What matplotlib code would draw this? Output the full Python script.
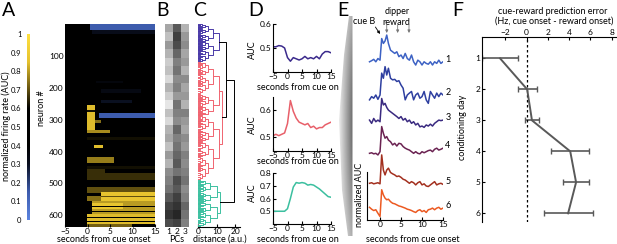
import numpy as np
import matplotlib
matplotlib.use('Agg')
import matplotlib.pyplot as plt
from matplotlib.colors import LinearSegmentedColormap
from matplotlib.path import Path
from matplotlib.patches import PathPatch

plt.rcParams['font.family'] = ['Lato', 'DejaVu Sans']
plt.rcParams['font.size'] = 6
plt.rcParams['xtick.labelsize'] = 6
plt.rcParams['ytick.labelsize'] = 6

W, H = 617, 244

# ---- A: heatmap (neurons x time), blocks of activity
n_neurons = 636
heat_t_edges = np.arange(-5, 15.01, 0.25)
# (first neuron, last neuron, t start, t end, AUC)
activity_blocks = [
    (0, 18, 0.5, 15, 0.15),
    (18, 30, 1, 15, 0.32),
    (60, 64, 2, 15, 0.4),
    (100, 104, 0, 15, 0.6),
    (150, 156, 4, 15, 0.4),
    (180, 185, 2, 8, 0.36),
    (205, 215, 3, 12, 0.34),
    (237, 249, 3, 10, 0.3),
    (279, 295, 2.5, 15, 0.15),
    (253, 332, 0, 1.8, 0.84),
    (270, 276, 0, 1.8, 0.62),
    (300, 310, 1.8, 3, 0.74),
    (332, 342, 0, 5, 0.78),
    (355, 362, 0, 15, 0.62),
    (379, 389, 1.5, 3.5, 0.84),
    (416, 437, 0, 6, 0.76),
    (445, 455, 0, 15, 0.62),
    (455, 468, 0, 4, 0.66),
    (468, 489, 0, 15, 0.66),
    (489, 500, 0, 15, 0.6),
    (510, 531, 0, 15, 0.7),
    (526, 553, 3, 15, 0.86),
    (538, 542, 3, 15, 0.7),
    (540, 553, 0, 3, 0.74),
    (553, 595, 1, 15, 0.8),
    (560, 580, 1, 8, 0.86),
    (570, 574, 0, 15, 0.55),
    (586, 590, 0, 15, 0.58),
    (595, 627, 0, 15, 0.84),
    (604, 608, 0, 15, 0.56),
    (617, 620, 0, 15, 0.6),
    (627, 636, 0, 10, 0.72),
]
cbar_ticks = [0, 0.1, 0.2, 0.3, 0.4, 0.5, 0.6, 0.7, 0.8, 0.9, 1]

# ---- B: PC loadings (grey levels, 24 row blocks)
pc1 = [0.65, 0.75, 0.6, 0.7, 0.8, 0.75, 0.85, 0.7, 0.8, 0.9, 0.75, 0.85,
       0.7, 0.65, 0.75, 0.6, 0.7, 0.55, 0.5, 0.45, 0.35, 0.25, 0.2, 0.3]
pc2 = [0.35, 0.25, 0.3, 0.4, 0.5, 0.45, 0.55, 0.5, 0.6, 0.45, 0.5, 0.55,
       0.4, 0.5, 0.45, 0.4, 0.35, 0.45, 0.3, 0.35, 0.25, 0.2, 0.15, 0.25]
pc3 = [0.7, 0.6, 0.55, 0.65, 0.6, 0.7, 0.55, 0.65, 0.6, 0.7, 0.5, 0.6,
       0.65, 0.55, 0.6, 0.5, 0.55, 0.5, 0.45, 0.55, 0.5, 0.4, 0.45, 0.5]

# ---- C: dendrogram clusters
cluster_sizes = [119, 370, 147]
cluster_colors = ['#4a3aa8', '#f06470', '#3cc0a0']
cluster_level_heights = [
    [11, 8, 5.5, 3.5, 2.2, 1.2],
    [13, 11, 8, 5.5, 3.5, 2, 1],
    [12, 10, 6.5, 4, 2.5, 1.2],
]
split_fracs = [0.45, 0.6, 0.4, 0.55, 0.35, 0.5, 0.6]
join_pr, join_all = 15, 19.5

# ---- D: cluster mean responses
t_d = list(range(-5, 16))
auc_purple = [0.505, 0.505, 0.51, 0.508, 0.50, 0.46, 0.445, 0.46, 0.455, 0.45, 0.455,
              0.465, 0.455, 0.46, 0.455, 0.465, 0.455, 0.475, 0.485, 0.485, 0.48]
auc_red = [0.505, 0.51, 0.505, 0.51, 0.515, 0.55, 0.635, 0.595, 0.57, 0.555, 0.55,
           0.545, 0.55, 0.535, 0.54, 0.53, 0.535, 0.535, 0.545, 0.55, 0.555]
auc_green = [0.5, 0.5, 0.5, 0.5, 0.5, 0.52, 0.6, 0.69, 0.725, 0.72, 0.725,
             0.72, 0.705, 0.71, 0.705, 0.69, 0.675, 0.655, 0.635, 0.615, 0.61]

# ---- E: population response per conditioning day
t_e = [-2.5, -2, -1.5, -1, -0.5, 0, 0.4, 0.8, 1.2, 1.6, 2, 2.5, 3, 3.5, 4, 4.5, 5, 5.5,
       6, 6.5, 7, 7.5, 8, 8.5, 9, 9.5, 10, 10.5, 11, 11.5, 12, 12.5, 13, 13.5, 14, 14.5, 15]
day1 = [0.0, 0.04, 0.09, 0.0, 0.12, 0.06, 0.86, 0.68, 0.77, 0.99, 0.68, 0.43, 0.37, 0.31,
        0.37, 0.19, 0.25, 0.12, 0.31, 0.12, 0.06, 0.25, 0.0, -0.12, 0.06, 0.0, -0.12, 0.0,
        -0.06, -0.09, 0.0, -0.12, 0.0, -0.06, 0.06, -0.06, 0.0]
day2 = [-0.06, 0.06, 0.0, 0.12, -0.04, 0.12, 0.93, 0.74, 1.17, 0.86, 1.11, 0.74, 0.68, 0.70,
        0.62, 0.65, 0.49, 0.37, -0.06, 0.12, 0.19, 0.25, -0.06, 0.12, 0.19, 0.0, 0.06, 0.25,
        -0.06, -0.19, 0.25, 0.12, 0.0, 0.19, 0.06, 0.19, 0.12]
day3 = [0.06, -0.06, 0.12, 0.0, 0.06, 0.0, 0.86, 0.62, 0.68, 0.53, 0.43, 0.37, 0.31, 0.25,
        0.19, 0.12, 0.19, 0.06, 0.12, 0.0, 0.06, -0.06, 0.0, -0.12, -0.06, -0.19, -0.16,
        -0.21, -0.12, -0.16, -0.09, -0.16, -0.06, 0.0, 0.06, 0.04, 0.06]
day4 = [0.0, 0.02, -0.02, 0.0, -0.06, 0.06, 0.99, 0.74, 0.56, 0.62, 0.49, 0.43, 0.31, 0.37,
        0.27, 0.37, 0.35, 0.25, 0.19, 0.15, 0.12, 0.06, 0.0, 0.06, 0.0, -0.02, 0.06, 0.02,
        0.06, 0.10, 0.12, 0.06, 0.15, 0.19, 0.12, 0.15, 0.19]
day5 = [0.0, 0.02, -0.02, 0.0, 0.02, -0.02, 1.05, 0.49, 0.31, 0.49, 0.56, 0.40, 0.35, 0.31,
        0.25, 0.27, 0.22, 0.15, 0.12, 0.06, 0.0, 0.06, 0.02, -0.06, 0.02, 0.06, -0.06, -0.02,
        -0.10, -0.12, -0.06, 0.0, 0.06, -0.06, -0.02, 0.0, -0.04]
day6 = [0.07, 0.0, -0.05, -0.02, -0.15, -0.27, 0.72, 0.53, 0.41, 0.35, 0.37, 0.28, 0.22, 0.20,
        0.16, 0.12, 0.10, 0.07, 0.04, 0.0, -0.02, -0.05, -0.09, -0.12, -0.05, -0.02, -0.09,
        -0.05, -0.12, -0.02, 0.0, 0.04, -0.02, 0.04, 0.07, 0.0, 0.04]
day_traces = [day1, day2, day3, day4, day5, day6]
day_offsets = [5.86, 4.51, 3.64, 2.47, 1.36, 0.40]
day_colors = ['#3d62c4', '#2e3fa0', '#3a2a80', '#6b2352', '#a3301f', '#ec5a22']
reward_times = [1.6, 4.2, 6.9]

# ---- F: prediction error per day
days = [1, 2, 3, 4, 5, 6]
rpe_mean = [-2.5, 0.05, 0.5, 4.1, 4.65, 3.9]
rpe_err = [1.7, 0.9, 0.7, 1.8, 1.25, 2.3]


def px_axes(x0, y0, x1, y1):
    return fig.add_axes([x0 / W, 1 - y1 / H, (x1 - x0) / W, (y1 - y0) / H])


def ftext(x, y, s, **kw):
    return fig.text(x / W, 1 - y / H, s, **kw)


fig = plt.figure(figsize=(W / 100, H / 100), dpi=100)

# panel letters
for lx, letter in zip([2, 156, 193, 248, 337, 452], 'ABCDEF'):
    ftext(lx, 10, letter, fontsize=14, va='center', ha='left')

# ---------------- A
cmap = LinearSegmentedColormap.from_list('auc', [
    (0.0, (0.36, 0.52, 0.88)), (0.15, (0.24, 0.36, 0.68)), (0.3, (0.04, 0.06, 0.12)),
    (0.4, (0, 0, 0)), (0.6, (0, 0, 0)), (0.72, (0.45, 0.37, 0.07)),
    (0.85, (0.9, 0.76, 0.18)), (1.0, (1.0, 0.88, 0.25))])

t_centers = (heat_t_edges[:-1] + heat_t_edges[1:]) / 2
heat = np.full((n_neurons, len(t_centers)), 0.5)
for lo, hi, t0, t1, v in activity_blocks:
    heat[lo:hi, (t_centers >= t0) & (t_centers < t1)] = v

ax_a = px_axes(65, 24, 155, 227)
ax_a.imshow(heat, aspect='auto', cmap=cmap, vmin=0, vmax=1, interpolation='nearest',
            extent=(-5, 15, n_neurons + 0.5, 0.5))
ax_a.set_yticks([100, 200, 300, 400, 500, 600])
ax_a.set_xticks([-5, 0, 5, 10, 15])
ax_a.tick_params(direction='in', length=2, pad=1)
for s in ax_a.spines.values():
    s.set_visible(False)
ftext(104, 239.5, 'seconds from cue onset', ha='center', va='center', fontsize=6.5)
ftext(42, 108, 'neuron #', ha='center', va='center', rotation=90, fontsize=6.5)

ax_cb = px_axes(27, 34, 29.5, 220)
ax_cb.imshow(np.linspace(0, 1, 256)[:, None], aspect='auto', cmap=cmap, origin='lower',
             extent=(0, 1, 0, 1))
ax_cb.set_xticks([])
ax_cb.set_yticks(cbar_ticks)
ax_cb.set_yticklabels([('%g' % v) for v in cbar_ticks])
ax_cb.tick_params(length=0, pad=4, labelsize=5.5)
for s in ax_cb.spines.values():
    s.set_visible(False)
ftext(6, 126, 'normalized firing rate (AUC)', ha='center', va='center', rotation=90,
      fontsize=6.5)

# ---------------- B
ax_b = px_axes(165, 24, 189, 227)
pcs = np.array([pc1, pc2, pc3]).T
ax_b.imshow(pcs, aspect='auto', cmap='gray', vmin=0, vmax=1, interpolation='nearest',
            extent=(0.5, 3.5, n_neurons + 0.5, 0.5))
ax_b.set_xticks([1, 2, 3])
ax_b.set_yticks([])
ax_b.tick_params(length=0, pad=1)
for s in ax_b.spines.values():
    s.set_visible(False)
ftext(177, 239.5, 'PCs', ha='center', va='center', fontsize=6.5)

# ---------------- C
ax_c = px_axes(198, 24, 240, 227)


def draw_tree(ax, lo, hi, heights, depth, color, flip):
    if depth >= len(heights) or hi - lo < 2:
        return (lo + hi) / 2, 0.0
    f = split_fracs[depth % len(split_fracs)]
    if flip:
        f = 1 - f
    mid = lo + (hi - lo) * f
    y1, h1 = draw_tree(ax, lo, mid, heights, depth + 1, color, flip)
    y2, h2 = draw_tree(ax, mid, hi, heights, depth + 1, color, not flip)
    h = heights[depth]
    ax.plot([h1, h, h, h2], [y1, y1, y2, y2], color=color, lw=0.7)
    return (y1 + y2) / 2, h


roots = []
start = 0
for size, col, hts in zip(cluster_sizes, cluster_colors, cluster_level_heights):
    roots.append(draw_tree(ax_c, start, start + size, hts, 0, col, False))
    start += size
(yp, hp), (yr, hr), (yg, hg) = roots
ax_c.plot([hp, join_pr, join_pr, hr], [yp, yp, yr, yr], color='k', lw=0.7)
ypr = (yp + yr) / 2
ax_c.plot([join_pr, join_all, join_all, hg], [ypr, ypr, yg, yg], color='k', lw=0.7)
ax_c.set_ylim(n_neurons, 0)
ax_c.set_xlim(0, 22.5)
ax_c.set_xticks([0, 10, 20])
ax_c.set_yticks([])
ax_c.tick_params(direction='in', length=2, pad=1)
for side in ['top', 'right', 'left']:
    ax_c.spines[side].set_visible(False)
ax_c.spines['bottom'].set_linewidth(0.8)
ftext(220, 239.5, 'distance (a.u.)', ha='center', va='center', fontsize=6.5)

# ---------------- D
d_boxes = [(24, 72), (96.5, 150.5), (173, 224)]
d_ylims = [(0.4, 0.6), (0.45, 0.65), (0.4, 0.8)]
d_yticks = [[0.5, 0.6], [0.5, 0.6], [0.5, 0.6, 0.7, 0.8]]
d_series = [auc_purple, auc_red, auc_green]
d_colors = ['#3b2a8c', '#e8606a', '#3bbf9f']
d_label_y = [[50, 87], [125, 162], [193, 239.5]]
for (y0, y1), yl, yt, ser, col, (ly, xy) in zip(d_boxes, d_ylims, d_yticks, d_series,
                                               d_colors, d_label_y):
    ax = px_axes(273, y0, 331, y1)
    ax.plot(t_d, ser, color=col, lw=1.1)
    ax.set_xlim(-5, 15)
    ax.set_ylim(*yl)
    ax.set_yticks(yt)
    ax.set_yticklabels([('%g' % v) for v in yt])
    ax.set_xticks([-5, 0, 5, 10, 15])
    ax.tick_params(direction='in', length=2, pad=1)
    for side in ['top', 'right']:
        ax.spines[side].set_visible(False)
    for side in ['left', 'bottom']:
        ax.spines[side].set_linewidth(0.8)
    ftext(252, ly, 'AUC', ha='center', va='center', rotation=90, fontsize=6.5)
    ftext(257, xy, 'seconds from cue on', ha='left', va='center', fontsize=6.5)

# ---------------- wedge (zoom shading)
ax_w = px_axes(330, 12, 358, 240)
ax_w.set_xlim(330, 358)
ax_w.set_ylim(240, 12)
ax_w.axis('off')
gx = np.linspace(330, 358, 60)
gy = np.linspace(12, 240, 120)
GX, GY = np.meshgrid(gx, gy)
shade = 1 - 0.55 * np.clip((GX - 337) / 15, 0, 1) * (0.55 + 0.45 * np.sin(np.pi * (GY - 12) / 228))
im = ax_w.imshow(shade, cmap='gray', vmin=0, vmax=1, extent=(330, 358, 240, 12), aspect='auto')
wedge = Path([(349, 16), (352.5, 16), (352.5, 236), (348, 236), (342, 190), (339, 120),
              (344, 55), (349, 16)], closed=True)
patch = PathPatch(wedge, transform=ax_w.transData, facecolor='none', edgecolor='none')
ax_w.add_patch(patch)
im.set_clip_path(patch)

# ---------------- E
ax_e = px_axes(367, 25, 443, 220)
for tr, off, col in zip(day_traces, day_offsets, day_colors):
    ax_e.plot(t_e, np.array(tr) + off, color=col, lw=1.1)
ax_e.set_xlim(-3.1, 15)
ax_e.set_ylim(0, 195 / 27)
ax_e.set_yticks([])
ax_e.set_xticks([0, 5, 10, 15])
ax_e.tick_params(direction='in', length=2, pad=1)
for side in ['top', 'right']:
    ax_e.spines[side].set_visible(False)
ax_e.spines['left'].set_bounds(0, 48 / 27)
for side in ['left', 'bottom']:
    ax_e.spines[side].set_linewidth(0.8)
for i, (tr, off) in enumerate(zip(day_traces, day_offsets)):
    ax_e.text(16.2, off + tr[-1] + 0.1, str(i + 1), ha='center', va='center', fontsize=6.5,
              clip_on=False)
for rt in reward_times:
    ax_e.annotate('', xy=(rt, 187 / 27), xytext=(rt, 195 / 27), annotation_clip=False,
                  arrowprops=dict(arrowstyle='-|>', color='#777777', lw=0.6,
                                  mutation_scale=4, shrinkA=0, shrinkB=0))
ax_e.annotate('', xy=(0.0, 186 / 27), xytext=(-1.1, 193 / 27), annotation_clip=False,
              arrowprops=dict(arrowstyle='-|>', color='k', lw=0.6, mutation_scale=4,
                              shrinkA=0, shrinkB=0))
ftext(364, 22, 'cue B', ha='center', va='center', fontsize=6.5)
ftext(397, 12, 'dipper', ha='center', va='center', fontsize=6.5)
ftext(396, 23, 'reward', ha='center', va='center', fontsize=6.5)
ftext(360, 195, 'normalized AUC', ha='center', va='center', rotation=90, fontsize=6.5)
ftext(413, 239.5, 'seconds from cue onset', ha='center', va='center', fontsize=6.5)

# ---------------- F
ax_f = px_axes(482, 37, 617, 222)
ax_f.errorbar(rpe_mean, days, xerr=rpe_err, color='#595959', lw=1.4, elinewidth=1.2,
              capsize=2, capthick=1)
ax_f.axvline(0, color='k', lw=0.9, ls=(0, (2, 2)))
ax_f.set_xlim(-4.2, 8.5)
ax_f.set_ylim(6.28, 0.31)
ax_f.set_yticks(days)
ax_f.set_xticks([-2, 0, 2, 4, 6, 8])
ax_f.xaxis.tick_top()
ax_f.tick_params(direction='in', length=2, pad=1)
for side in ['bottom', 'right']:
    ax_f.spines[side].set_visible(False)
for side in ['top', 'left']:
    ax_f.spines[side].set_linewidth(0.8)
ftext(463, 127, 'conditioning day', ha='center', va='center', rotation=90, fontsize=6.5)
ftext(553, 11, 'cue-reward prediction error', ha='center', va='center', fontsize=6.5)
ftext(554, 21, '(Hz, cue onset - reward onset)', ha='center', va='center', fontsize=6.5)

fig.savefig('out.png', dpi=100)
